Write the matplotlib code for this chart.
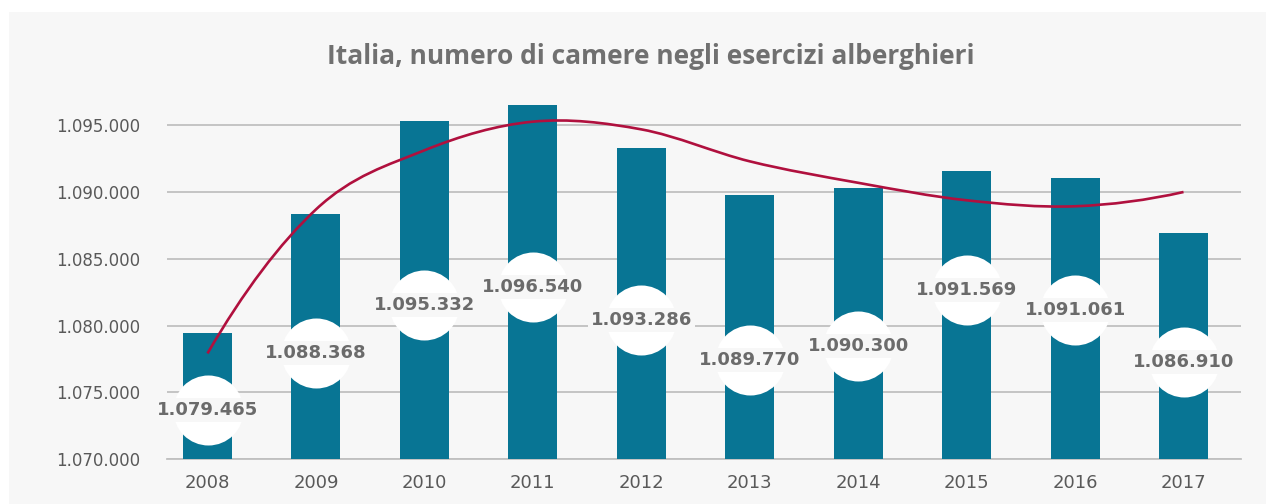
import matplotlib
matplotlib.use("Agg")
import matplotlib.pyplot as plt
import numpy as np
from matplotlib.patches import Rectangle
from matplotlib.path import Path
from matplotlib.patches import PathPatch

# ---- data ----
years = ["2008", "2009", "2010", "2011", "2012", "2013", "2014", "2015", "2016", "2017"]
rooms = [1079465, 1088368, 1095332, 1096540, 1093286, 1089770, 1090300, 1091569, 1091061, 1086910]
# trend line as drawn in the reference (read at each year)
trend = [1077912, 1088700, 1093129, 1095277, 1094700, 1092305, 1090696, 1089386, 1088937, 1090007]
# vertical placement of the value labels (data units)
label_pos = [1073668, 1077934, 1081527, 1082874, 1080404, 1077410, 1078458, 1082650, 1081153, 1077260]
y_ticks = [1070000, 1075000, 1080000, 1085000, 1090000, 1095000]
title = "Italia, numero di camere negli esercizi alberghieri"

BAR = "#087594"
TREND = "#b0103e"
PANEL = "#f7f7f7"
GRID = "#c0c0c0"

def it_fmt(v):
    return f"{int(v):,}".replace(",", ".")

W, H = 1266, 504
fig = plt.figure(figsize=(W / 100, H / 100), dpi=100)
fig.patch.set_facecolor("white")
fig.patches.append(Rectangle((9 / W, 0), 1 - 9 / W, (H - 12) / H,
                             transform=fig.transFigure, facecolor=PANEL,
                             edgecolor="none", zorder=-10))

ax = fig.add_axes([167 / W, (H - 459) / H, (1241 - 167) / W, 367 / H])
ax.set_facecolor("none")

x = np.arange(len(years))
ax.bar(x, rooms, width=0.452, color=BAR, zorder=2)

ax.set_xlim(-0.3735, 9.53)
ax.set_ylim(1070000, 1097500)
ax.set_yticks(y_ticks)
ax.set_yticklabels([it_fmt(v) for v in y_ticks])
ax.set_xticks(x)
ax.set_xticklabels(years)
ax.set_axisbelow(True)
ax.yaxis.grid(True, color=GRID, linewidth=1.3)
ax.axhline(y_ticks[0], color=GRID, linewidth=1.3, zorder=1, clip_on=False)
for s in ax.spines.values():
    s.set_visible(False)
ax.tick_params(axis="both", length=0, labelsize=13, labelcolor="#595959")
ax.tick_params(axis="y", pad=19, labelsize=12)
ax.tick_params(axis="x", pad=11)

# smooth trend line (Catmull-Rom through the read points,
# ends extended by quadratic extrapolation for a natural end slope)
pts = np.column_stack([x, trend]).astype(float)
n = len(pts)
ext = np.vstack([3 * pts[0] - 3 * pts[1] + pts[2], pts,
                 3 * pts[-1] - 3 * pts[-2] + pts[-3]])
verts = [tuple(pts[0])]
codes = [Path.MOVETO]
for i in range(1, n):
    p0, p1, p2, p3 = ext[i - 1], ext[i], ext[i + 1], ext[i + 2]
    c1 = p1 + (p2 - p0) / 6.0
    c2 = p2 - (p3 - p1) / 6.0
    verts += [tuple(c1), tuple(c2), tuple(p2)]
    codes += [Path.CURVE4] * 3
ax.add_patch(PathPatch(Path(verts, codes), facecolor="none", edgecolor=TREND,
                       linewidth=1.9, zorder=3.5, capstyle="butt"))

# value labels: white circle, then text on a panel-coloured box
ax.scatter(x, label_pos, s=2540, color="white", linewidths=0, zorder=4)
for xi, v, ly in zip(x, rooms, label_pos):
    ax.text(xi, ly, it_fmt(v), ha="center", va="center",
            fontsize=13, fontweight="bold", color="#6b6b6b", zorder=5,
            bbox=dict(boxstyle="square,pad=0.15", facecolor=PANEL, edgecolor="none"))

fig.text(651 / W, 1 - 56 / H, title, ha="center", va="center",
         fontsize=19, fontweight="bold", family=["Open Sans", "DejaVu Sans"],
         color="#707070")

fig.savefig("out.png", dpi=100, facecolor=fig.get_facecolor())
